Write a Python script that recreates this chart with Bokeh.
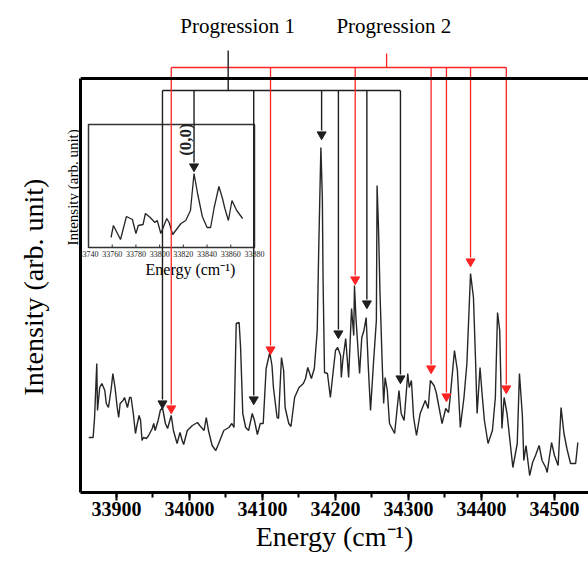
import math
from bokeh.plotting import figure
from bokeh.models import Range1d, Span, Title, SingleIntervalTicker, FixedTicker
from bokeh.core.properties import value
from bokeh.embed import file_html
from bokeh.resources import INLINE

# ---------------- data ----------------
energy = [33862, 33868, 33870, 33873, 33874, 33877, 33880, 33884, 33886, 33889,
          33893, 33895, 33898, 33901, 33903, 33905, 33909, 33911, 33915, 33918,
          33920, 33923, 33926, 33928, 33931, 33933, 33935, 33937, 33941, 33944,
          33949, 33951, 33953, 33957, 33960, 33963, 33967, 33970, 33975, 33978,
          33983, 33987, 33990, 33992, 33997, 34004, 34011, 34014, 34020, 34023,
          34026, 34031, 34036, 34040, 34047, 34054, 34058, 34061, 34064, 34068,
          34070, 34073, 34077, 34081, 34086, 34089, 34093, 34097, 34101, 34105,
          34110, 34113, 34115, 34120, 34122, 34126, 34129, 34131, 34136, 34139,
          34144, 34150, 34156, 34159, 34162, 34167, 34171, 34175, 34177, 34180,
          34182, 34183, 34185, 34189, 34193, 34197, 34200, 34203, 34207, 34208,
          34210, 34214, 34218, 34222, 34225, 34226, 34228, 34233, 34236, 34239,
          34242, 34245, 34248, 34252, 34256, 34257, 34259, 34261, 34264, 34266,
          34268, 34271, 34274, 34281, 34287, 34290, 34294, 34299, 34301, 34304,
          34307, 34311, 34316, 34323, 34327, 34330, 34335, 34338, 34346, 34351,
          34355, 34358, 34363, 34367, 34371, 34376, 34380, 34385, 34389, 34392,
          34394, 34398, 34401, 34404, 34409, 34415, 34419, 34422, 34425, 34426,
          34428, 34431, 34435, 34440, 34443, 34449, 34452, 34456, 34458, 34461,
          34466, 34470, 34474, 34479, 34483, 34488, 34490, 34496, 34500, 34505,
          34509, 34513, 34517, 34522, 34529, 34532]
intensity = [43, 43, 63, 117, 70, 93, 97, 90, 77, 73,
             93, 107, 93, 73, 63, 77, 80, 83, 73, 83,
             83, 67, 47, 55, 65, 60, 40, 43, 42, 45,
             52, 57, 50, 60, 70, 73, 57, 52, 65, 50,
             37, 48, 40, 36, 50, 55, 58, 55, 50, 63,
             50, 35, 30, 37, 50, 53, 57, 53, 157, 158,
             133, 67, 53, 50, 67, 60, 46, 57, 57, 112,
             128, 115, 93, 63, 62, 123, 110, 73, 57, 54,
             83, 93, 97, 102, 113, 102, 112, 150, 230, 333,
             283, 200, 108, 107, 83, 110, 130, 133, 125, 103,
             120, 142, 103, 172, 145, 195, 163, 107, 143, 150,
             163, 113, 70, 117, 160, 295, 250, 187, 117, 77,
             103, 90, 57, 47, 90, 67, 60, 107, 93, 100,
             63, 45, 67, 80, 72, 100, 95, 88, 57, 72,
             68, 90, 130, 110, 53, 83, 117, 207, 183, 117,
             67, 113, 85, 60, 37, 50, 83, 168, 150, 117,
             52, 83, 67, 33, 13, 37, 107, 65, 20, 35,
             5, 18, 25, 35, 20, 13, 8, 38, 25, 15,
             73, 47, 32, 17, 17, 38]

inset_energy = [33759, 33761, 33767, 33772, 33777, 33780, 33782, 33786, 33788, 33792,
                33796, 33798, 33801, 33806, 33808, 33811, 33818, 33822, 33826, 33829,
                33832, 33836, 33840, 33843, 33846, 33850, 33853, 33855, 33858, 33861,
                33865, 33870]
inset_intensity = [13, 25, 11, 34, 31, 17, 25, 26, 37, 33,
                   28, 30, 17, 32, 28, 16, 27, 30, 40, 77,
                   57, 34, 23, 23, 43, 64, 52, 42, 30, 50,
                   40, 32]

x_ticks = [33900, 34000, 34100, 34200, 34300, 34400, 34500]
inset_ticks = [33740, 33760, 33780, 33800, 33820, 33840, 33860, 33880]

prog1_energy = [33963, 34088, 34181, 34204, 34243, 34289]
prog1_peak = [73, 77, 342, 143, 173, 98]
prog2_energy = [33975, 34111, 34227, 34331, 34352, 34385, 34434]
prog2_peak = [68, 127, 197, 108, 80, 215, 88]
origin_energy = [33829]
origin_peak = [80]

prog_labels = ["Progression 1", "Progression 2"]
prog_label_energy = [34066, 34280]
prog_stem_energy = [34053, 34270]

# ---------------- layout / style constants ----------------
SERIF = "Liberation Serif"
BLACK = "#1e1e1e"
RED = "#ff2424"
Y_BOTTOM, Y_TOP = -12, 480
FRAME_TOP_LEVEL = 402      # upper frame line
BLACK_BAR, RED_BAR = 390, 413
LABEL_Y = 455
HEAD = 4

p = figure(width=588, height=562,
           x_range=Range1d(33850.7, 34546.6), y_range=Range1d(Y_BOTTOM, Y_TOP),
           output_backend="svg", toolbar_location=None,
           min_border_left=80, min_border_right=0, min_border_top=0, min_border_bottom=70)
p.outline_line_color = None
p.grid.visible = False

# inset scales
p.extra_x_ranges = {"ix": Range1d(33733.25, 34161.7)}
p.extra_y_ranges = {"iy": Range1d(-242, 250)}

# x axis
xa = p.xaxis[0]
xa.ticker = SingleIntervalTicker(interval=100, num_minor_ticks=2)
xa.axis_line_width = 3
xa.axis_line_color = "black"
xa.major_tick_in = 0
xa.major_tick_out = 8
xa.major_tick_line_width = 2
xa.minor_tick_in = 0
xa.minor_tick_out = 5
xa.minor_tick_line_width = 2
xa.major_label_text_font = SERIF
xa.major_label_text_font_style = "bold"
xa.major_label_text_font_size = "20px"
xa.major_label_text_color = "black"
xa.major_label_standoff = 1
xa.axis_label = "Energy (cm\u207b\u00b9)"
xa.axis_label_text_font = SERIF
xa.axis_label_text_font_style = "normal"
xa.axis_label_text_font_size = "28px"
xa.axis_label_text_color = "black"
xa.axis_label_standoff = 2

# y axis: line only
ya = p.yaxis[0]
ya.ticker = FixedTicker(ticks=[])
ya.bounds = (Y_BOTTOM, FRAME_TOP_LEVEL)
ya.axis_line_width = 3
ya.axis_line_color = "black"
ya.major_tick_out = 0
ya.minor_tick_out = 0
ya.major_label_standoff = 0

p.add_layout(Span(location=FRAME_TOP_LEVEL, dimension="width", line_color="black", line_width=3))

# y labels (inset label nearest the frame, main label outside it)
p.add_layout(Title(text="Intensity (arb. unit)", align="left", offset=247, standoff=0,
                   text_font=SERIF, text_font_size="15px", text_font_style="normal",
                   text_color="black"), "left")
p.add_layout(Title(text="Intensity (arb. unit)", align="left", offset=97, standoff=24,
                   vertical_align="top",
                   text_font=SERIF, text_font_size="28px", text_font_style="normal",
                   text_color="black"), "left")

# main spectrum
p.line(energy, intensity, line_color="#262626", line_width=1.4)

# ---------------- inset ----------------
IR = dict(x_range_name="ix", y_range_name="iy")
p.quad(left=[inset_ticks[0]], right=[inset_ticks[-1]], bottom=[3], top=[126],
       fill_color=None, line_color="#333333", line_width=1.5, **IR)
p.line(inset_energy, inset_intensity, line_color="#262626", line_width=1.3, **IR)
p.segment(x0=inset_ticks, y0=[3] * len(inset_ticks), x1=inset_ticks, y1=[6] * len(inset_ticks),
          line_color="#333333", line_width=1, **IR)
p.text(x=inset_ticks, y=[-3] * len(inset_ticks), text=[str(t) for t in inset_ticks],
       text_font=value(SERIF), text_font_size="8px", text_align="center",
       text_baseline="middle", text_color="#222222", **IR)
p.text(x=[33826], y=[-19], text=["Energy (cm\u207b\u00b9)"], text_font=value(SERIF),
       text_font_size="16px", text_align="center", text_baseline="middle",
       text_color="black", **IR)
p.text(x=[33821.8], y=[111], text=["(0,0)"], angle=math.pi / 2, text_font=value(SERIF),
       text_font_style="bold", text_font_size="17px", text_align="center",
       text_baseline="middle", text_color="#222222", **IR)

# ---------------- progression markers ----------------
# black (progression 1)
p.segment(x0=[min(prog1_energy)], y0=[BLACK_BAR], x1=[max(prog1_energy)], y1=[BLACK_BAR],
          line_color=BLACK, line_width=1.4)
p.segment(x0=prog1_energy, y0=[BLACK_BAR] * len(prog1_energy), x1=prog1_energy,
          y1=[v + 2 * HEAD for v in prog1_peak], line_color=BLACK, line_width=1.4)
p.scatter(prog1_energy, [v + HEAD for v in prog1_peak], marker="inverted_triangle",
          size=9, color=BLACK)
# (0,0) arrow into the inset
bar_in_inset = 160
p.segment(x0=origin_energy, y0=[bar_in_inset], x1=origin_energy,
          y1=[v + 2 * HEAD for v in origin_peak], line_color=BLACK, line_width=1.4, **IR)
p.scatter(origin_energy, [v + HEAD for v in origin_peak], marker="inverted_triangle",
          size=9, color=BLACK, **IR)

# red (progression 2)
p.segment(x0=[min(prog2_energy)], y0=[RED_BAR], x1=[max(prog2_energy)], y1=[RED_BAR],
          line_color=RED, line_width=1.3)
p.segment(x0=prog2_energy, y0=[RED_BAR] * len(prog2_energy), x1=prog2_energy,
          y1=[v + 2 * HEAD for v in prog2_peak], line_color=RED, line_width=1.3)
p.scatter(prog2_energy, [v + HEAD for v in prog2_peak], marker="inverted_triangle",
          size=9, color=RED)

# stems to labels
p.segment(x0=[prog_stem_energy[0]], y0=[BLACK_BAR], x1=[prog_stem_energy[0]], y1=[430],
          line_color=BLACK, line_width=1.4)
p.segment(x0=[prog_stem_energy[1]], y0=[RED_BAR], x1=[prog_stem_energy[1]], y1=[427],
          line_color=RED, line_width=1.3)
p.text(x=prog_label_energy, y=[LABEL_Y] * 2, text=prog_labels, text_font=value(SERIF),
       text_font_size="21px", text_align="center", text_baseline="middle", text_color="black")

open("out.html", "w").write(file_html(p, INLINE))
